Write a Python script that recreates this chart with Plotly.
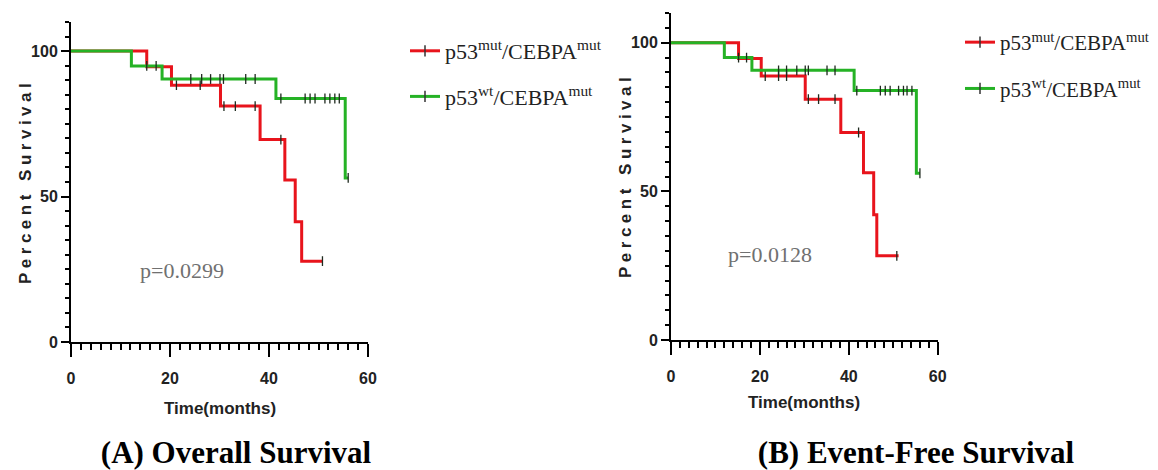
import numpy as np
import plotly.graph_objects as go

# ---------------- data ----------------
# Overall survival (A)
os_mut_time = [0, 15.3, 20.3, 30.2, 38.2, 43.2, 45.3, 46.6, 50.9]
os_mut_surv = [100, 94.6, 88.3, 81.1, 69.6, 55.7, 41.3, 27.8, 27.8]
os_mut_cens = [21.3, 26.1, 30.9, 33.2, 37.2, 42.4, 50.8]

os_wt_time = [0, 12.2, 18.4, 41.4, 55.4, 56.0]
os_wt_surv = [100, 94.9, 90.4, 83.7, 56.4, 56.4]
os_wt_cens = [15.3, 17.2, 24.2, 26.4, 28.2, 30.1, 30.8, 35.3, 37.2,
              42.4, 47.3, 48.3, 49.3, 51.3, 52.3, 53.3, 54.2, 56.0]

# Event-free survival (B)
efs_mut_time = [0, 15.2, 20.3, 30.2, 38.2, 43.3, 45.6, 46.3, 51.2]
efs_mut_surv = [100, 94.7, 88.8, 81.0, 69.8, 56.3, 42.1, 28.3, 28.3]
efs_mut_cens = [21.2, 24.2, 26.0, 30.9, 33.2, 36.9, 42.2, 50.8]

efs_wt_time = [0, 12.0, 18.2, 41.2, 55.2, 56.0]
efs_wt_surv = [100, 95.0, 90.7, 83.9, 56.1, 56.1]
efs_wt_cens = [15.2, 17.0, 24.2, 26.0, 28.3, 30.2, 30.9, 35.1, 36.9,
               41.8, 47.1, 48.2, 49.3, 51.2, 52.3, 53.1, 54.2, 56.0]

series_names = ["p53<sup>mut</sup>/CEBPA<sup>mut</sup>",
                "p53<sup>wt</sup>/CEBPA<sup>mut</sup>"]
p_values = ["p=0.0299", "p=0.0128"]
panel_titles = ["(A) Overall Survival", "(B) Event-Free Survival"]
x_ticks = [0, 20, 40, 60]
y_ticks = [0, 50, 100]

RED = "#e8141c"
GREEN = "#25b225"


def surv_at(times, surv, t):
    idx = np.searchsorted(np.asarray(times), np.asarray(t), side="right") - 1
    return list(np.asarray(surv)[idx])


fig = go.Figure()

panels = [
    ("x", "y", "legend", [(os_mut_time, os_mut_surv, os_mut_cens, RED),
                          (os_wt_time, os_wt_surv, os_wt_cens, GREEN)]),
    ("x2", "y2", "legend2", [(efs_mut_time, efs_mut_surv, efs_mut_cens, RED),
                             (efs_wt_time, efs_wt_surv, efs_wt_cens, GREEN)]),
]

for xa, ya, lg, curves in panels:
    for i, (t, s, c, col) in enumerate(curves):
        fig.add_trace(go.Scatter(
            x=t, y=s, xaxis=xa, yaxis=ya, mode="lines",
            line=dict(color=col, width=3, shape="hv"),
            showlegend=False, hoverinfo="skip"))
        fig.add_trace(go.Scatter(
            x=c, y=surv_at(t, s, c), xaxis=xa, yaxis=ya, mode="markers",
            marker=dict(symbol="line-ns", size=7,
                        line=dict(color="#1f2a1f", width=1.3)),
            showlegend=False, hoverinfo="skip"))
    for i, (t, s, c, col) in enumerate(curves):
        # legend entry
        fig.add_trace(go.Scatter(
            x=[None], y=[None], xaxis=xa, yaxis=ya, mode="lines+markers",
            name=series_names[i], legend=lg, legendgroup=f"{lg}{i}",
            line=dict(color=col, width=3),
            marker=dict(symbol="line-ns", size=8,
                        line=dict(color="#333333", width=1.5))))

W, H = 1158, 470


def px_x(p):
    return p / W


def px_y(p):
    return 1 - p / H


tickfont = dict(family="Liberation Sans, Arial, sans-serif",
                size=16, color="#222222", weight="bold")

xcommon = dict(range=[0, 60], tickvals=x_ticks, showline=True, linecolor="black",
               linewidth=2, ticks="outside", ticklen=13, tickwidth=2, tickcolor="black",
               showgrid=False, zeroline=False, tickfont=tickfont, ticklabelstandoff=8,
               minor=dict(dtick=2, ticks="outside", ticklen=6, tickwidth=1.5,
                          tickcolor="black", showgrid=False))
ycommon = dict(range=[0, 110], tickvals=y_ticks, showline=True, linecolor="black",
               linewidth=2, ticks="outside", ticklen=8, tickwidth=2, tickcolor="black",
               showgrid=False, zeroline=False, tickfont=tickfont, ticklabelstandoff=0,
               minor=dict(dtick=5, ticks="outside", ticklen=4, tickwidth=1.5,
                          tickcolor="black", showgrid=False))

legfont = dict(family="Liberation Serif, Times New Roman, serif", size=22, color="#222222")
legfont2 = dict(family="Liberation Serif, Times New Roman, serif", size=21, color="#222222")
fig.update_layout(
    width=W, height=H, margin=dict(l=0, r=0, t=0, b=0, autoexpand=False),
    paper_bgcolor="white", plot_bgcolor="white",
    xaxis=dict(domain=[px_x(71), px_x(368)], anchor="y", **xcommon),
    yaxis=dict(domain=[px_y(342), px_y(22)], anchor="x", **ycommon),
    xaxis2=dict(domain=[px_x(671), px_x(937.7)], anchor="y2", **xcommon),
    yaxis2=dict(domain=[px_y(340), px_y(13)], anchor="x2", **ycommon),
    legend=dict(x=px_x(405), y=px_y(30), xanchor="left", yanchor="top",
                font=legfont, tracegroupgap=14, bgcolor="rgba(0,0,0,0)"),
    legend2=dict(x=px_x(960), y=px_y(22), xanchor="left", yanchor="top",
                 font=legfont2, tracegroupgap=16, bgcolor="rgba(0,0,0,0)"),
    showlegend=True,
)

sans_b = dict(family="Liberation Sans, Arial, sans-serif", size=17, color="#222222", weight="bold")
axis_title_f = dict(family="Liberation Sans, Arial, sans-serif", size=17, color="#222222", weight="bold")
serif = dict(family="Liberation Serif, Times New Roman, serif", size=22, color="#707070")
title_f = dict(family="Liberation Serif, Times New Roman, serif", size=31, color="black")

ann = []
shapes = []
for k, (ytx, yty, xtx, xty, px, py, tx) in enumerate([
    (25, 182, 220, 408, 182, 270, 236),
    (625, 176, 804, 402, 770, 255, 916),
]):
    ann.append(dict(x=px_x(ytx), y=px_y(yty), xref="paper", yref="paper", textangle=-90,
                    text='<span style="letter-spacing:4.5px">Percent Survival</span>',
                    showarrow=False, font=sans_b, xanchor="center", yanchor="middle"))
    ann.append(dict(x=px_x(xtx), y=px_y(xty), xref="paper", yref="paper",
                    text="Time(months)", showarrow=False, font=axis_title_f,
                    xanchor="center", yanchor="middle"))
    ann.append(dict(x=px_x(px), y=px_y(py), xref="paper", yref="paper",
                    text=p_values[k], showarrow=False, font=serif,
                    xanchor="center", yanchor="middle"))
    # panel caption drawn as the label of an invisible paper line (does not push margins)
    shapes.append(dict(type="line", xref="paper", yref="paper",
                       x0=px_x(tx - 60), x1=px_x(tx + 60), y0=px_y(449), y1=px_y(449),
                       line=dict(color="rgba(0,0,0,0)", width=0),
                       label=dict(text=f"<b>{panel_titles[k]}</b>", font=title_f,
                                  textposition="middle", textangle=0,
                                  xanchor="center", yanchor="middle", padding=0)))
fig.update_layout(annotations=ann, shapes=shapes)

fig.write_html("out.html", config={"displayModeBar": False},
               post_script="document.body.style.margin='0';document.body.style.overflow='hidden';")
